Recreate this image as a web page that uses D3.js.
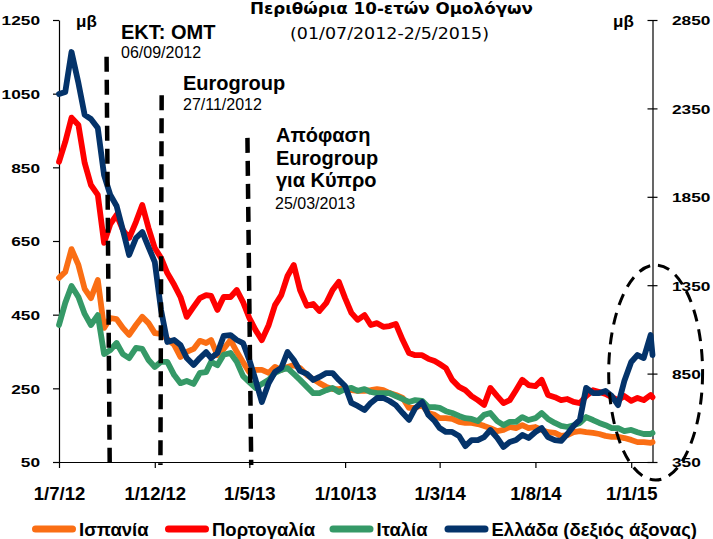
<!DOCTYPE html>
<html><head><meta charset="utf-8">
<script src="https://cdn.jsdelivr.net/npm/d3@7"></script>
<style>
body{margin:0;background:#fff}
svg{display:block}
text{font-family:"Liberation Sans",Arial,sans-serif;fill:#000}
</style>
</head><body>
<svg id="chart" width="713" height="539"></svg>
<script>
// ---------- DATA ----------
const dates = [
"2012-07-01","2012-07-11","2012-07-21","2012-08-01","2012-08-11","2012-08-21","2012-09-01","2012-09-11","2012-09-21",
"2012-10-01","2012-10-11","2012-10-21","2012-11-01","2012-11-11","2012-11-21","2012-12-01","2012-12-11","2012-12-21",
"2013-01-01","2013-01-11","2013-01-21","2013-02-01","2013-02-11","2013-02-21","2013-03-01","2013-03-11","2013-03-21",
"2013-04-01","2013-04-11","2013-04-21","2013-05-01","2013-05-11","2013-05-21","2013-06-01","2013-06-11","2013-06-21",
"2013-07-01","2013-07-11","2013-07-21","2013-08-01","2013-08-11","2013-08-21","2013-09-01","2013-09-11","2013-09-21",
"2013-10-01","2013-10-11","2013-10-21","2013-11-01","2013-11-11","2013-11-21","2013-12-01","2013-12-11","2013-12-21",
"2014-01-01","2014-01-11","2014-01-21","2014-02-01","2014-02-11","2014-02-21","2014-03-01","2014-03-11","2014-03-21",
"2014-04-01","2014-04-11","2014-04-21","2014-05-01","2014-05-11","2014-05-21","2014-06-01","2014-06-11","2014-06-21",
"2014-07-01","2014-07-11","2014-07-21","2014-08-01","2014-08-11","2014-08-21","2014-09-01","2014-09-11","2014-09-21",
"2014-10-01","2014-10-11","2014-10-21","2014-11-01","2014-11-11","2014-11-21","2014-12-01","2014-12-11","2014-12-21",
"2015-01-01","2015-01-11","2015-01-21","2015-02-01","2015-02-04"];

// Spain (left axis, bp)
const spain = [550,566,628, 585,520,495, 544,414,441, 438,414,395, 422,444,427, 400,398,384,
 368,335,349, 357,379,373, 381,340,357, 381,349,321, 294,300,300, 292,308,300,
 308,313,305, 286,275,264, 254,248,248, 251,245,243, 243,245,248, 245,237,232,
 224,197,197, 205,183,178, 169,169,167, 159,156,156, 153,148,142, 134,137,145,
 142,150,142, 145,137,131, 129,121,123, 131,134,131, 129,126,121, 118,118,115,
 110,104,104, 102,104];

// Portugal (left axis, bp)
const portugal = [865,919,985, 965,862,802, 775,645,696, 721,680,658, 702,748,685, 631,604,563,
 531,498,444, 471,495,503, 501,463,498, 498,517,484, 441,408,381, 422,476,503,
 555,585,517, 474,479,460, 482,517,539, 495,455,436, 449,422,427, 417,419,425,
 381,346,340, 340,330,324, 316,305,273, 254,245,229, 218,205,251, 229,210,218,
 245,273,259, 256,273,232, 226,218,221, 213,210,229, 245,240,235, 226,218,229,
 216,224,218, 232,226];

// Italy (left axis, bp)
const italy = [422,482,528, 498,452,422, 449,343,354, 373,343,332, 360,357,327, 308,322,322,
 286,264,270, 262,292,294, 322,313,341, 346,322,283, 267,251,262, 273,292,300,
 305,289,273, 254,237,237, 245,251,240, 248,251,243, 248,240,237, 237,237,229,
 221,213,218, 216,199,199, 197,188,183, 175,169,167, 161,178,183, 161,150,159,
 159,172,164, 169,183,167, 156,148,145, 150,156,172, 164,156,150, 142,142,134,
 137,131,126, 126,129];

// Greece (right axis, bp)
const greece = [2431,2443,2669, 2494,2313,2290, 2239,1973,1860, 1798,1662,1521, 1617,1651,1566, 1481,1210,1029,
 1040,1012,938, 899,938,972, 938,967,1063, 1068,1040,1023, 927,814,689, 797,859,882,
 972,927,865, 848,814,831, 853,853,814, 780,684,667, 644,684,712, 712,695,672,
 627,588,655, 689,616,582, 542,520,520, 497,440,474, 474,491,531, 486,435,463,
 474,503,486, 520,542,491, 474,469,508, 554,588,769, 740,740,752, 723,672,808,
 916,955,938, 1068,955];

const seriesNames  = ["Ισπανία","Πορτογαλία","Ιταλία","Ελλάδα (δεξιός άξονας)"];
const seriesColors = ["#fa6e14","#ff0000","#359967","#04336a"];

const leftTicks  = [50,250,450,650,850,1050,1250];
const rightTicks = [350,850,1350,1850,2350,2850];
const xTickDates  = ["2012-07-01","2012-12-01","2013-05-01","2013-10-01","2014-03-01","2014-08-01","2015-01-01"];
const xTickLabels = ["1/7/12","1/12/12","1/5/13","1/10/13","1/3/14","1/8/14","1/1/15"];

const titleText = "Περιθώρια 10-ετών Ομολόγων";
const subtitleText = "(01/07/2012-2/5/2015)";
const unitText = "μβ";

// event markers: [date at top, value at top, date at bottom, value at bottom] (left axis units)
const eventLines = [
  ["2012-09-15",1150,"2012-09-20",42],
  ["2012-12-12",1046,"2012-12-10",42],
  ["2013-04-28",930,"2013-05-04",42]
];
const eventTitles = [["ΕΚΤ: ΟΜΤ"],["Eurogroup"],["Απόφαση","Eurogroup","για Κύπρο"]];
const eventDates  = ["06/09/2012","27/11/2012","25/03/2013"];

// highlight ellipse bounds (right axis units)
const ellipseBox = {from:"2014-11-26", to:"2015-04-25", top:1464, bottom:248};

// ---------- CHART ----------
const parse = d3.timeParse("%Y-%m-%d");
const D = dates.map(parse);
const svg = d3.select("#chart");

const x  = d3.scaleTime().domain([parse("2012-07-01"), parse("2015-02-04")]).range([59, 652.5]);
const yL = d3.scaleLinear().domain([50,1250]).range([462,20]);
const yR = d3.scaleLinear().domain([350,2850]).range([462,20]);

// axes
const fmt = d3.format("d");
const gL = svg.append("g").attr("transform","translate(59,0)")
  .call(d3.axisLeft(yL).tickValues(leftTicks).tickFormat(fmt).tickSizeInner(6).tickSizeOuter(0));
const gR = svg.append("g").attr("transform","translate(652.5,0)")
  .call(d3.axisRight(yR).tickValues(rightTicks).tickFormat(fmt).tickSizeInner(5).tickSizeOuter(0));
const gX = svg.append("g").attr("transform","translate(0,462)")
  .call(d3.axisBottom(x).tickValues(xTickDates.map(parse)).tickSizeInner(6).tickSizeOuter(0)
        .tickFormat((d,i)=>xTickLabels[i]));

[gL,gR,gX].forEach(g=>{
  g.attr("font-family",null).attr("font-size",null);
  g.select(".domain").attr("stroke","#000").attr("stroke-width",1.2);
  g.selectAll(".tick line").attr("stroke","#000").attr("stroke-width",1.2);
});
gR.selectAll(".tick line").attr("x1",-5).attr("x2",5);

const sx = 1.28;
gL.selectAll(".tick text")
  .attr("x",null).attr("dy",null).attr("y",null)
  .attr("text-anchor","end")
  .attr("transform",`translate(-19,4.8) scale(${sx},1)`)
  .attr("font-weight","bold")
  .style("font-size","13.5px").style("font-weight","bold");
gR.selectAll(".tick text")
  .attr("x",null).attr("dy",null).attr("y",null)
  .attr("text-anchor","start")
  .attr("transform",`translate(19.5,4.8) scale(${sx},1)`)
  .attr("font-weight","bold")
  .style("font-size","13.5px").style("font-weight","bold");
gX.selectAll(".tick text")
  .attr("dy",null).attr("y",38)
  .style("font-size","18.5px").style("font-weight","bold");

// series lines
const allSeries = [spain, portugal, italy, greece];
const scales = [yL, yL, yL, yR];
allSeries.forEach((vals,k)=>{
  const line = d3.line().x((d,i)=>x(D[i])).y(d=>scales[k](d)).curve(d3.curveLinear);
  svg.append("path").datum(vals)
    .attr("d",line).attr("fill","none")
    .attr("stroke",seriesColors[k]).attr("stroke-width",5.8)
    .attr("stroke-linejoin","round").attr("stroke-linecap","round");
});

// event dashed lines
eventLines.forEach(e=>{
  svg.append("line")
    .attr("x1",x(parse(e[0]))).attr("y1",yL(e[1]))
    .attr("x2",x(parse(e[2]))).attr("y2",yL(e[3]))
    .attr("stroke","#000").attr("stroke-width",4.5).attr("stroke-dasharray","15,8");
});

// event annotations
function txt(xp, yp, s, size, weight){
  return svg.append("text").attr("x",xp).attr("y",yp).text(s)
    .style("font-size",size+"px").style("font-weight",weight);
}
txt(121,39,eventTitles[0][0],20,"bold");
txt(121,58,eventDates[0],16,"normal");
txt(183,90,eventTitles[1][0],20,"bold");
txt(183,110,eventDates[1],16,"normal");
eventTitles[2].forEach((s,i)=>txt(276,142+i*22.5,s,20,"bold"));
txt(275,209,eventDates[2],16,"normal");

// title & subtitle
svg.append("text").attr("x",250).attr("y",14).text(titleText)
  .style("font-family",'"DejaVu Sans",Verdana,sans-serif').style("font-size","15px").style("font-weight","bold")
  .attr("textLength",283).attr("lengthAdjust","spacingAndGlyphs");
svg.append("text").attr("x",290).attr("y",39).text(subtitleText)
  .style("font-family",'"DejaVu Sans",Verdana,sans-serif').style("font-size","15px").style("font-weight","normal")
  .attr("textLength",199).attr("lengthAdjust","spacingAndGlyphs");

// unit labels
txt(76,27,unitText,17,"bold");
txt(613,27,unitText,17,"bold");

// ellipse
const ex1 = x(parse(ellipseBox.from)), ex2 = x(parse(ellipseBox.to));
const ey1 = yR(ellipseBox.top), ey2 = yR(ellipseBox.bottom);
svg.append("ellipse")
  .attr("cx",(ex1+ex2)/2).attr("cy",(ey1+ey2)/2)
  .attr("rx",(ex2-ex1)/2).attr("ry",(ey2-ey1)/2)
  .attr("fill","none").attr("stroke","#000").attr("stroke-width",3)
  .attr("stroke-dasharray","12,8");

// legend
const legX = [35.5,168.5,333,448];
seriesNames.forEach((n,k)=>{
  svg.append("line").attr("x1",legX[k]).attr("x2",legX[k]+37).attr("y1",529).attr("y2",529)
    .attr("stroke",seriesColors[k]).attr("stroke-width",7).attr("stroke-linecap","round");
  txt(legX[k]+43.5,535.5,n,18.5,"bold");
});
</script>
</body></html>
